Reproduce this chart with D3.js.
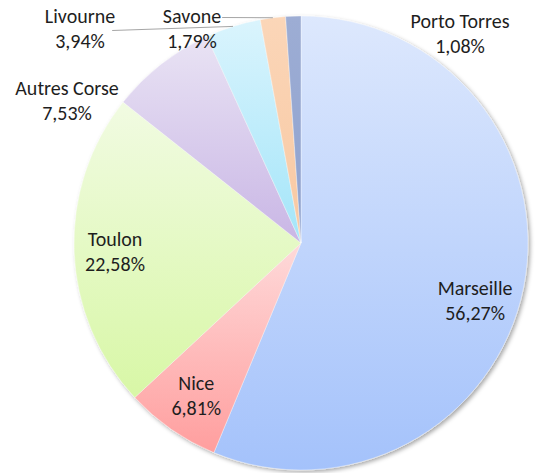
<!DOCTYPE html>
<html>
<head>
<meta charset="utf-8">
<script src="https://cdn.jsdelivr.net/npm/d3@7"></script>
<style>
  body { margin: 0; background: #fff; }
  text { font-family: Carlito, Calibri, Lato, "Open Sans", sans-serif; font-size: 20px; fill: #1e1e1e; }
</style>
</head>
<body>
<div id="wrapper"></div>
<script>
// data
const ports = ["Marseille", "Nice", "Toulon", "Autres Corse", "Livourne", "Savone", "Porto Torres"]
const shares = [56.27, 6.81, 22.58, 7.53, 3.94, 1.79, 1.08]
const topColors = ["#dde8fd", "#fedada", "#f1fbe2", "#e9e3f4", "#daf4fd", "#fbd6b8", "#9dadd4"]
const bottomColors = ["#a4c2fb", "#ff9e9e", "#d8f7a6", "#c9b6e5", "#a3e5f9", "#f8c8a2", "#8fa2cf"]

// label layout: inner labels sit on a fraction of the radius,
// outer ones get a fixed offset from the centre plus a leader line
const labelLayout = [
  { inside: 0.80, shift: [-4, 20] },
  { inside: 0.808, shift: [0, 0] },
  { inside: 0.82, shift: [0, 0] },
  { outside: [-234, -144.5] },
  { outside: [-221, -216.5], line: "below" },
  { outside: [-109, -216.5], line: "right" },
  { outside: [159, -211.5] },
]

const fmt = v => d3.format(".2f")(v).replace(".", ",") + "%"

const width = 538
const height = 473
const cx = 301
const cy = 243
const radius = 227

const svg = d3.select("#wrapper")
  .append("svg")
  .attr("width", width)
  .attr("height", height)

const defs = svg.append("defs")
const shadow = defs.append("filter").attr("id", "shadow")
  .attr("x", "-10%").attr("y", "-10%").attr("width", "120%").attr("height", "120%")
shadow.append("feDropShadow")
  .attr("dx", 2).attr("dy", 2).attr("stdDeviation", 2)
  .attr("flood-color", "#000").attr("flood-opacity", 0.35)

ports.forEach((p, i) => {
  const g = defs.append("linearGradient")
    .attr("id", "grad" + i)
    .attr("x1", 0).attr("y1", 0).attr("x2", 0).attr("y2", 1)
  g.append("stop").attr("offset", "0%").attr("stop-color", topColors[i])
  g.append("stop").attr("offset", "100%").attr("stop-color", bottomColors[i])
})

const data = ports.map((p, i) => ({ port: p, share: shares[i], i: i }))

const pie = d3.pie().sort(null).value(d => d.share)
const arcs = pie(data)
const arc = d3.arc().innerRadius(0).outerRadius(radius)

const bounds = svg.append("g")
  .attr("transform", `translate(${cx},${cy})`)

bounds.append("g")
  .attr("filter", "url(#shadow)")
  .selectAll("path")
  .data(arcs)
  .join("path")
  .attr("d", arc)
  .attr("fill", d => `url(#grad${d.data.i})`)
  .attr("stroke", "#ffffff")
  .attr("stroke-opacity", 0.6)
  .attr("stroke-width", 0.6)

// labels (x,y = visual centre of the two-line block)
arcs.forEach(a => {
  const lay = labelLayout[a.data.i]
  let x, y
  if (lay.inside) {
    const mid = (a.startAngle + a.endAngle) / 2
    const r = radius * lay.inside
    x = Math.sin(mid) * r + lay.shift[0]
    y = -Math.cos(mid) * r + lay.shift[1]
  } else {
    x = lay.outside[0]
    y = lay.outside[1]
  }
  const base = y - 4
  const t = bounds.append("text")
    .attr("text-anchor", "middle")
  const first = t.append("tspan").attr("x", x).attr("y", base).text(a.data.port)
  t.append("tspan").attr("x", x).attr("y", base + 25).text(fmt(a.data.share))

  if (lay.line) {
    const mid = (a.startAngle + a.endAngle) / 2
    const ex = Math.sin(mid) * radius
    const ey = -Math.cos(mid) * radius
    const w = first.node().getComputedTextLength()
    const start = lay.line === "below"
      ? [x + w / 2 - 3, base + 8]
      : [x + w / 2 + 1, base - 5]
    bounds.append("line")
      .attr("x1", start[0]).attr("y1", start[1])
      .attr("x2", ex).attr("y2", ey)
      .attr("stroke", "#a6a6a6")
      .attr("stroke-width", 1)
  }
})
</script>
</body>
</html>
